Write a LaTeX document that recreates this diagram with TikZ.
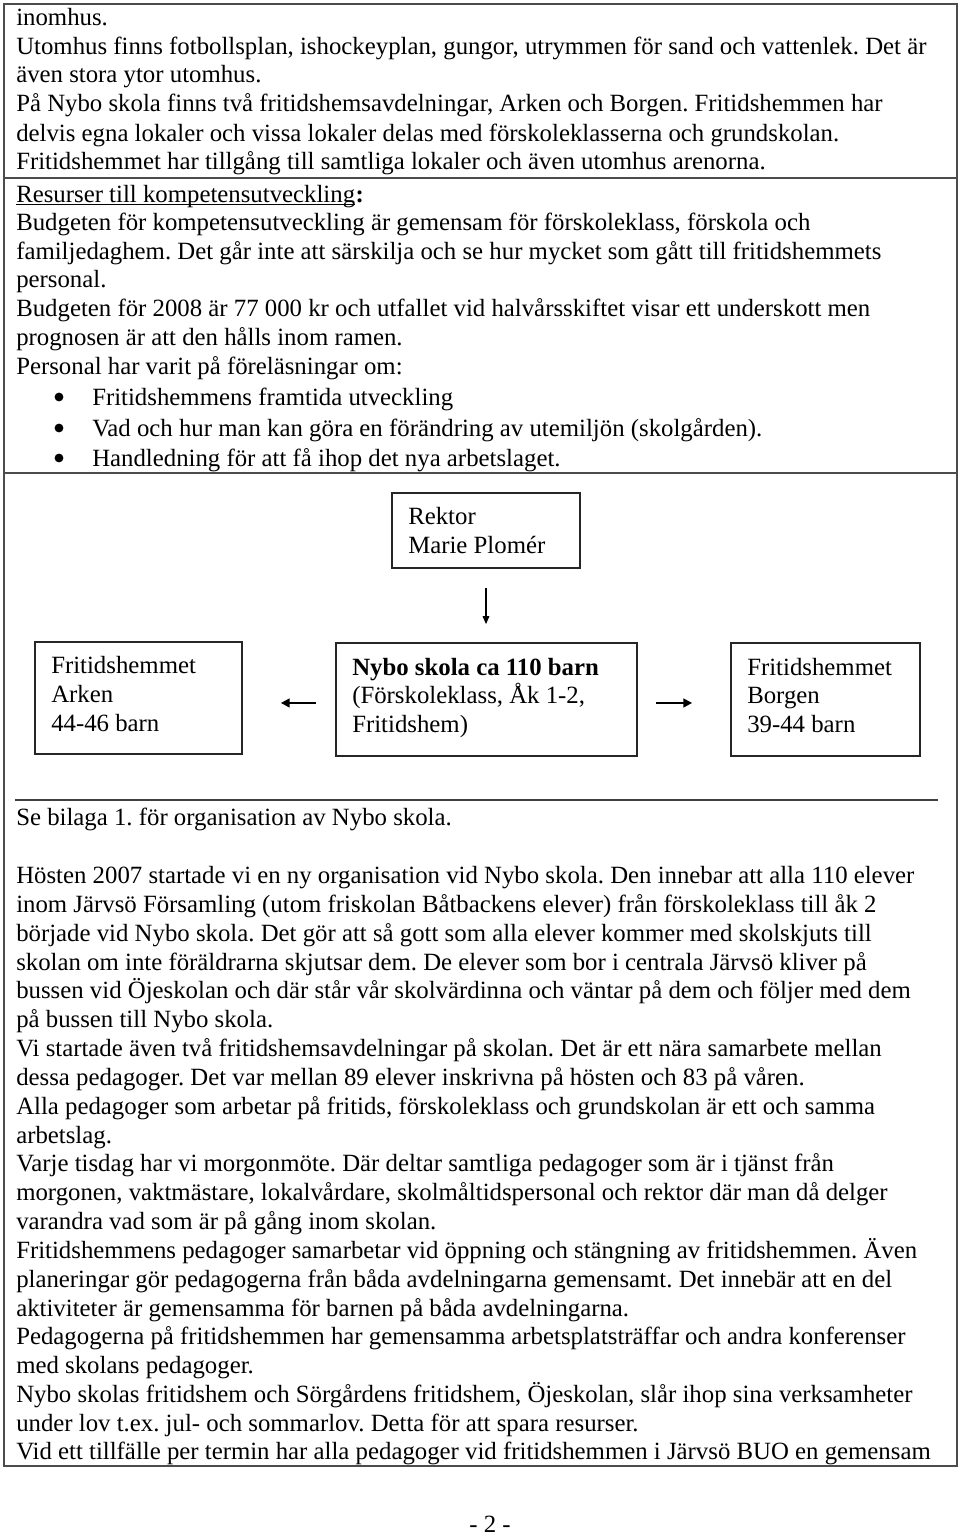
\documentclass[tikz,border=0pt]{standalone}
\usepackage{fontspec}
\setmainfont{Liberation Serif}
\usetikzlibrary{arrows.meta}
\newcommand\bodyfs{\fontsize{18.6pt}{22pt}\selectfont}
\frenchspacing
\begin{document}
\begin{tikzpicture}[x=0.75pt,y=-0.75pt,
  txt/.style={anchor=base west, inner sep=0pt, font=\bodyfs},
  bul/.style={circle, fill=black, inner sep=0pt, minimum size=6.6pt},
  pnum/.style={anchor=base, inner sep=0pt, font=\bodyfs},
  frame/.style={draw=black!70, line width=1.1pt},
  box/.style={draw=black!85, line width=1.3pt, inner sep=0pt, rectangle},
  arr/.style={-{Triangle[length=6pt,width=5pt]}, line width=0.8pt},
  harr/.style={-{Triangle[length=6.5pt,width=6.5pt]}, line width=1.5pt}]
\useasboundingbox (0,0) rectangle (960,1538);
\fill[white] (0,0) rectangle (960,1538);
% table frame
\draw[frame] (4,4) rectangle (957,1466);
\draw[frame] (4,178) -- (957,178);
\draw[frame] (4,473) -- (957,473);
% block 1
\node[txt] (a1) at (16,26) {inomhus.};
\node[txt] (a2) at (16,55) {Utomhus finns fotbollsplan, ishockeyplan, gungor, utrymmen för sand och vattenlek. Det är};
\node[txt] (a3) at (16,83) {även stora ytor utomhus.};
\node[txt] (a4) at (16,112) {På Nybo skola finns två fritidshemsavdelningar, Arken och Borgen. Fritidshemmen har};
\node[txt] (a5) at (16,141) {delvis egna lokaler och vissa lokaler delas med förskoleklasserna och grundskolan.};
\node[txt] (a6) at (16,169) {Fritidshemmet har tillgång till samtliga lokaler och även utomhus arenorna.};
% block 2
\node[txt] (b1) at (16,202) {Resurser till kompetensutveckling};
\node[txt] (b1c) at (b1.base east) {\textbf{:}};
\draw[line width=0.8pt] ([yshift=-1.6pt]b1.base west) -- ([yshift=-1.6pt]b1.base east);
\node[txt] (b2) at (16,230) {Budgeten för kompetensutveckling är gemensam för förskoleklass, förskola och};
\node[txt] (b3) at (16,259) {familjedaghem. Det går inte att särskilja och se hur mycket som gått till fritidshemmets};
\node[txt] (b4) at (16,287) {personal.};
\node[txt] (b5) at (16,316) {Budgeten för 2008 är 77 000 kr och utfallet vid halvårsskiftet visar ett underskott men};
\node[txt] (b6) at (16,345) {prognosen är att den hålls inom ramen.};
\node[txt] (b7) at (16,374) {Personal har varit på föreläsningar om:};
\node[bul] (k1) at (59,397) {};
\node[txt] (b8) at (92,405) {Fritidshemmens framtida utveckling};
\node[bul] (k2) at (59,428) {};
\node[txt] (b9) at (92,436) {Vad och hur man kan göra en förändring av utemiljön (skolgården).};
\node[bul] (k3) at (59,458) {};
\node[txt] (b10) at (92,466) {Handledning för att få ihop det nya arbetslaget.};
% diagram
\node[box, minimum width=141pt, minimum height=56.25pt] (rektor) at (486,530.5) {};
\node[txt] (r1) at (408,524) {Rektor};
\node[txt] (r2) at (408,553) {Marie Plomér};
\node[box, minimum width=155.25pt, minimum height=84pt] (arken) at (138.5,698) {};
\node[txt] (ar1) at (51,673) {Fritidshemmet};
\node[txt] (ar2) at (51,702) {Arken};
\node[txt] (ar3) at (51,731) {44-46 barn};
\node[box, minimum width=225.75pt, minimum height=84.75pt] (nybo) at (486.5,699.5) {};
\node[txt] (n1) at (352,675) {\textbf{Nybo skola ca 110 barn}};
\node[txt] (n2) at (352,703) {(Förskoleklass, Åk 1-2,};
\node[txt] (n3) at (352,732) {Fritidshem)};
\node[box, minimum width=141.75pt, minimum height=84.75pt] (borgen) at (825.5,699.5) {};
\node[txt] (bo1) at (747,675) {Fritidshemmet};
\node[txt] (bo2) at (747,703) {Borgen};
\node[txt] (bo3) at (747,732) {39-44 barn};
\draw[arr, shorten <=14pt, shorten >=13.5pt] (rektor.south) -- (rektor.south |- nybo.north);
\draw[harr, shorten <=14pt, shorten >=28.5pt] ([yshift=-2.6pt]nybo.west) -- ([yshift=-2.6pt]nybo.west -| arken.east);
\draw[harr, shorten <=13.5pt, shorten >=28.5pt] ([yshift=-2.6pt]nybo.east) -- ([yshift=-2.6pt]nybo.east -| borgen.west);
% rule
\draw[line width=1.2pt, black!75] (15,800) -- (938,800);
\node[txt] (s1) at (16,825) {Se bilaga 1. för organisation av Nybo skola.};
% block 3
\node[txt] (c1) at (16,883) {Hösten 2007 startade vi en ny organisation vid Nybo skola. Den innebar att alla 110 elever};
\node[txt] (c2) at (16,912) {inom Järvsö Församling (utom friskolan Båtbackens elever) från förskoleklass till åk 2};
\node[txt] (c3) at (16,941) {började vid Nybo skola. Det gör att så gott som alla elever kommer med skolskjuts till};
\node[txt] (c4) at (16,970) {skolan om inte föräldrarna skjutsar dem. De elever som bor i centrala Järvsö kliver på};
\node[txt] (c5) at (16,998) {bussen vid Öjeskolan och där står vår skolvärdinna och väntar på dem och följer med dem};
\node[txt] (c6) at (16,1027) {på bussen till Nybo skola.};
\node[txt] (c7) at (16,1056) {Vi startade även två fritidshemsavdelningar på skolan. Det är ett nära samarbete mellan};
\node[txt] (c8) at (16,1085) {dessa pedagoger. Det var mellan 89 elever inskrivna på hösten och 83 på våren.};
\node[txt] (c9) at (16,1114) {Alla pedagoger som arbetar på fritids, förskoleklass och grundskolan är ett och samma};
\node[txt] (c10) at (16,1143) {arbetslag.};
\node[txt] (c11) at (16,1171) {Varje tisdag har vi morgonmöte. Där deltar samtliga pedagoger som är i tjänst från};
\node[txt] (c12) at (16,1200) {morgonen, vaktmästare, lokalvårdare, skolmåltidspersonal och rektor där man då delger};
\node[txt] (c13) at (16,1229) {varandra vad som är på gång inom skolan.};
\node[txt] (c14) at (16,1258) {Fritidshemmens pedagoger samarbetar vid öppning och stängning av fritidshemmen. Även};
\node[txt] (c15) at (16,1287) {planeringar gör pedagogerna från båda avdelningarna gemensamt. Det innebär att en del};
\node[txt] (c16) at (16,1316) {aktiviteter är gemensamma för barnen på båda avdelningarna.};
\node[txt] (c17) at (16,1344) {Pedagogerna på fritidshemmen har gemensamma arbetsplatsträffar och andra konferenser};
\node[txt] (c18) at (16,1373) {med skolans pedagoger.};
\node[txt] (c19) at (16,1402) {Nybo skolas fritidshem och Sörgårdens fritidshem, Öjeskolan, slår ihop sina verksamheter};
\node[txt] (c20) at (16,1431) {under lov t.ex. jul- och sommarlov. Detta för att spara resurser.};
\node[txt] (c21) at (16,1459) {Vid ett tillfälle per termin har alla pedagoger vid fritidshemmen i Järvsö BUO en gemensam};
% page number
\node[pnum] (pg) at (490,1532) {- 2 -};
\end{tikzpicture}
\end{document}
